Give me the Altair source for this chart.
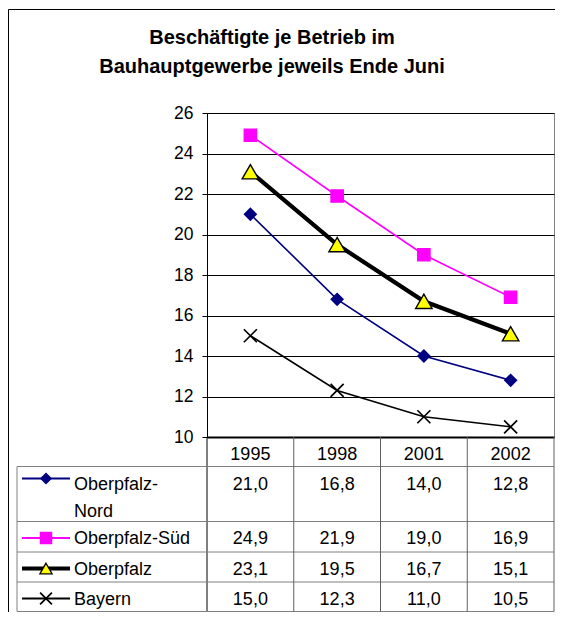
import altair as alt
import pandas as pd

FONT = "Liberation Sans"

# ---- data ----
years = ["1995", "1998", "2001", "2002"]
series = ["Oberpfalz-Nord", "Oberpfalz-Süd", "Oberpfalz", "Bayern"]
table_labels = ["Oberpfalz-\nNord", "Oberpfalz-Süd", "Oberpfalz", "Bayern"]
nord = [21.0, 16.8, 14.0, 12.8]
sued = [24.9, 21.9, 19.0, 16.9]
oberpfalz = [23.1, 19.5, 16.7, 15.1]
bayern = [15.0, 12.3, 11.0, 10.5]
y_ticks = [10, 12, 14, 16, 18, 20, 22, 24, 26]
title_lines = ["Beschäftigte je Betrieb im", "Bauhauptgewerbe jeweils Ende Juni"]

series_values = {
    "Oberpfalz-Nord": nord,
    "Oberpfalz-Süd": sued,
    "Oberpfalz": oberpfalz,
    "Bayern": bayern,
}
rows = []
for i, s in enumerate(series):
    for y, v in zip(years, series_values[s]):
        rows.append({"year": y, "series": s, "row": i, "value": v})
df = pd.DataFrame(rows)
sdf = pd.DataFrame({"series": series, "label": table_labels, "row": list(range(len(series)))})
ydf = pd.DataFrame({"year": years})
tdf = pd.DataFrame({"t": ["\n".join(title_lines)]})
one = pd.DataFrame({"a": [0]})

# ---- styles ----
XPATH = "M-1,-1L1,1M-1,1L1,-1"
styles = {
    "Oberpfalz-Nord": dict(line="#000080", lw=1.6, shape="diamond", fill="#000080", stroke="#000080", size=140, ksize=105, filled=True),
    "Oberpfalz-Süd": dict(line="#FF00FF", lw=1.6, shape="square", fill="#FF00FF", stroke="#FF00FF", size=150, ksize=125, filled=True),
    "Oberpfalz": dict(line="#000000", lw=4.2, shape="triangle-up", fill="#FFFF00", stroke="#000000", size=270, ksize=150, filled=True),
    "Bayern": dict(line="#000000", lw=1.6, shape=XPATH, fill="transparent", stroke="#000000", size=170, ksize=140, filled=False),
}

# ---- layout (plot area) ----
W, H = 347, 324
ROW_LINES = [353.5, 408.5, 439, 469, 498.5]
TBOT = ROW_LINES[-1]

x_scale = alt.Scale(type="band", domain=years, paddingInner=0, paddingOuter=0)
y_scale = alt.Scale(domain=[10, 26], nice=False, zero=False)
key_y = alt.Scale(domain=[0, 1, 2, 3], range=[365.5, 425, 455.5, 485.5], nice=False, zero=False)
text_y = alt.Scale(domain=[0, 1, 2, 3], range=[376.5, 431, 461.5, 491.5], nice=False, zero=False)

x_axis = alt.Axis(title=None, labels=False, ticks=False, grid=False,
                  domainColor="black", domainWidth=2)
y_axis = alt.Axis(title=None, values=y_ticks, grid=True, gridColor="black", gridWidth=1,
                  gridOpacity=1, domainColor="black", tickColor="black", tickSize=5,
                  labelFont=FONT, labelFontSize=17.5, labelColor="black", labelPadding=9)

X = alt.X("year:N", scale=x_scale, axis=x_axis)
Y = alt.Y("value:Q", scale=y_scale, axis=y_axis)

line_layers, point_layers = [], []
for s in series:
    st = styles[s]
    sub = alt.Chart(df).transform_filter(alt.datum.series == s)
    line_layers.append(sub.mark_line(color=st["line"], strokeWidth=st["lw"]).encode(x=X, y=Y))
    point_layers.append(sub.mark_point(
        shape=st["shape"], filled=st["filled"], fill=st["fill"], stroke=st["stroke"],
        size=st["size"], opacity=1, strokeWidth=1.4 if s != "Bayern" else 1.7
    ).encode(x=X, y=Y))
main = alt.layer(*line_layers, *point_layers)

# ---- table ----
TXT = dict(font=FONT, fontSize=18, color="black", baseline="alphabetic")

header = alt.Chart(ydf).mark_text(align="center", **TXT).encode(
    x=alt.X("year:N", scale=x_scale), y=alt.value(346.5), text="year:N")

values_text = alt.Chart(df).transform_calculate(
    txt="replace(format(datum.value, '.1f'), '.', ',')"
).mark_text(align="center", **TXT).encode(
    x=alt.X("year:N", scale=x_scale),
    y=alt.Y("row:Q", scale=text_y, axis=None),
    text="txt:N")

labels_text = alt.Chart(sdf).mark_text(align="left", lineBreak="\n", lineHeight=27, **TXT).encode(
    x=alt.value(-133),
    y=alt.Y("row:Q", scale=text_y, axis=None),
    text="label:N")

key_layers = []
for s in series:
    st = styles[s]
    sub = alt.Chart(sdf).transform_filter(alt.datum.series == s)
    key_layers.append(sub.mark_rule(color=st["line"], strokeWidth=max(st["lw"], 2.0)).encode(
        x=alt.value(-185), x2=alt.value(-137),
        y=alt.Y("row:Q", scale=key_y, axis=None)))
for s in series:
    st = styles[s]
    sub = alt.Chart(sdf).transform_filter(alt.datum.series == s)
    key_layers.append(sub.mark_point(
        shape=st["shape"], filled=st["filled"], fill=st["fill"], stroke=st["stroke"],
        size=st["ksize"], opacity=1, strokeWidth=1.3 if s != "Bayern" else 1.7
    ).encode(x=alt.value(-161), y=alt.Y("row:Q", scale=key_y, axis=None)))

col_sep = alt.Chart(ydf).mark_rule(color="#606060", strokeWidth=1).encode(
    x=alt.X("year:N", scale=x_scale, bandPosition=1), y=alt.value(H), y2=alt.value(TBOT))

frame_layers = []
frame_layers.append(alt.Chart(one).mark_rule(color="black").encode(
    x=alt.value(0), y=alt.value(H), y2=alt.value(TBOT)))
frame_layers.append(alt.Chart(one).mark_rule(color="#808080").encode(
    x=alt.value(-190), y=alt.value(ROW_LINES[0]), y2=alt.value(TBOT)))
for yy in ROW_LINES:
    frame_layers.append(alt.Chart(one).mark_rule(color="#808080").encode(
        x=alt.value(-190), x2=alt.value(W), y=alt.value(yy)))
frame_layers.append(alt.Chart(one).mark_rule(color="black").encode(
    x=alt.value(-198.5), x2=alt.value(W + 10), y=alt.value(-103.5)))
frame_layers.append(alt.Chart(one).mark_rule(color="black").encode(
    x=alt.value(-198.5), y=alt.value(-103.5), y2=alt.value(H + 200)))

title = alt.Chart(tdf).mark_text(font=FONT, fontSize=20, fontWeight="bold", align="center",
                                 baseline="alphabetic", lineBreak="\n", lineHeight=29,
                                 color="black").encode(
    x=alt.value(65), y=alt.value(-69), text="t:N")

chart = alt.layer(
    *frame_layers, col_sep, main, header, values_text, labels_text, *key_layers, title
).resolve_scale(
    y="independent"
).properties(
    width=W, height=H,
    autosize=alt.AutoSizeParams(type="none"),
    padding={"left": 199, "top": 105, "right": 1, "bottom": 175},
).configure_view(stroke="#808080", strokeWidth=1)

chart.save("out.html", embed_options={"renderer": "svg", "actions": False})
